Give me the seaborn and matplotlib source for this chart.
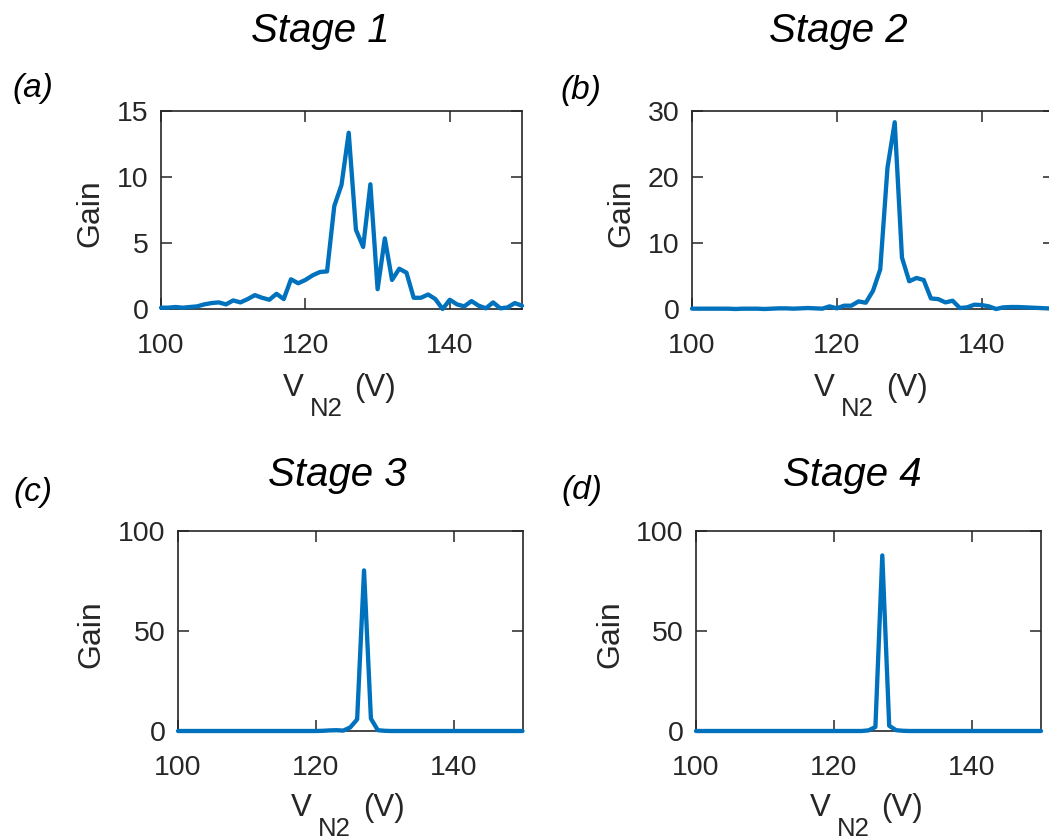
import numpy as np
import matplotlib
matplotlib.use("Agg")
import matplotlib.pyplot as plt
import seaborn as sns

# Nitrogen-stage voltage sweep (V), 1 V steps
voltage = np.arange(100, 151)

gain_stage1 = [0.10, 0.10, 0.15, 0.10, 0.15, 0.20, 0.35, 0.45, 0.50, 0.35,
               0.65, 0.50, 0.75, 1.05, 0.85, 0.70, 1.15, 0.75, 2.25, 1.95,
               2.20, 2.55, 2.80, 2.85, 7.80, 9.40, 13.35, 6.00, 4.70, 9.45,
               1.50, 5.35, 2.20, 3.05, 2.75, 0.85, 0.85, 1.10, 0.75, 0.00,
               0.70, 0.35, 0.20, 0.60, 0.25, 0.05, 0.50, 0.05, 0.12, 0.45,
               0.25]

gain_stage2 = [0.05, 0.05, 0.05, 0.05, 0.05, 0.05, 0.00, 0.05, 0.05, 0.05,
               0.00, 0.05, 0.10, 0.10, 0.05, 0.10, 0.15, 0.10, 0.05, 0.40,
               0.10, 0.50, 0.50, 1.15, 0.95, 2.75, 6.00, 21.4, 28.3, 7.80,
               4.20, 4.70, 4.40, 1.60, 1.50, 1.00, 1.25, 0.15, 0.25, 0.65,
               0.60, 0.40, 0.00, 0.25, 0.30, 0.30, 0.25, 0.20, 0.15, 0.10,
               0.05]

gain_stage3 = [0.0, 0.0, 0.0, 0.0, 0.0, 0.0, 0.0, 0.0, 0.0, 0.0,
               0.0, 0.0, 0.0, 0.0, 0.0, 0.0, 0.0, 0.0, 0.0, 0.0,
               0.0, 0.1, 0.3, 0.4, 0.2, 1.8, 5.8, 80.3, 6.2, 0.4,
               0.1, 0.0, 0.0, 0.0, 0.0, 0.0, 0.0, 0.0, 0.0, 0.0,
               0.0, 0.0, 0.0, 0.0, 0.0, 0.0, 0.0, 0.0, 0.0, 0.0,
               0.0]

gain_stage4 = [0.0, 0.0, 0.0, 0.0, 0.0, 0.0, 0.0, 0.0, 0.0, 0.0,
               0.0, 0.0, 0.0, 0.0, 0.0, 0.0, 0.0, 0.0, 0.0, 0.0,
               0.0, 0.0, 0.0, 0.0, 0.0, 0.3, 2.0, 87.8, 2.6, 0.4,
               0.1, 0.0, 0.0, 0.0, 0.0, 0.0, 0.0, 0.0, 0.0, 0.0,
               0.0, 0.0, 0.0, 0.0, 0.0, 0.0, 0.0, 0.0, 0.0, 0.0,
               0.0]

stage_titles = ["Stage 1", "Stage 2", "Stage 3", "Stage 4"]
panel_tags = ["(a)", "(b)", "(c)", "(d)"]
y_ticks = [[0, 5, 10, 15], [0, 10, 20, 30], [0, 50, 100], [0, 50, 100]]
x_ticks = [100, 120, 140]

sns.set_theme(style="ticks")
plt.rcParams["font.family"] = ["Liberation Sans", "DejaVu Sans"]

W, H = 1049, 840
fig = plt.figure(figsize=(W / 100, H / 100), dpi=100, facecolor="white")

LINE = "#0072BD"
DARK = "#262626"

# axes boxes in pixels: left, right, top, bottom
boxes = [(161, 522, 111, 309), (692, 1054, 111, 309),
         (178, 522.5, 531, 731), (696, 1041, 531, 731)]
series = [gain_stage1, gain_stage2, gain_stage3, gain_stage4]
ylabel_x = [-0.155, -0.153, -0.209, -0.206]
xlabel_drop = [87, 87, 85, 85]
title_pos = [(320, 42), (838, 42), (337, 486), (852, 486)]
tag_pos = [(33, 89), (581, 91), (33, 492), (582, 490)]


def px_text(x, y, s, **kw):
    """Place text at figure pixel coordinates (origin top-left)."""
    return fig.text(x / W, 1 - y / H, s, **kw)


def voltage_label(cx, base):
    """x-axis label V_N2 (V) with a deep, large subscript."""
    px_text(cx - 57, base, "V", fontsize=22.5, color=DARK,
            ha="left", va="baseline")
    px_text(cx - 30, base + 20, "N2", fontsize=18.5, color=DARK,
            ha="left", va="baseline")
    px_text(cx + 15, base, "(V)", fontsize=22.5, color=DARK,
            ha="left", va="baseline")


for i, (l, r, t, b) in enumerate(boxes):
    ax = fig.add_axes([l / W, 1 - b / H, (r - l) / W, (b - t) / H])
    sns.lineplot(x=voltage, y=series[i], ax=ax, color=LINE, linewidth=3.1,
                 zorder=3, clip_on=False)
    ax.set_xlim(100, 150)
    ax.set_ylim(y_ticks[i][0], y_ticks[i][-1])
    ax.set_xticks(x_ticks)
    ax.set_yticks(y_ticks[i])
    ax.tick_params(direction="in", length=8, width=1.1, color=DARK,
                   labelsize=20.5, labelcolor=DARK, top=True, right=True)
    ax.tick_params(axis="x", pad=17)
    ax.tick_params(axis="y", pad=9)
    for sp in ax.spines.values():
        sp.set_color(DARK)
        sp.set_linewidth(1.2)
        sp.set_visible(True)
    ax.set_facecolor("white")
    ax.set_ylabel("Gain", fontsize=23, color=DARK)
    ax.yaxis.set_label_coords(ylabel_x[i], 0.485)

    voltage_label((min(r, 1054) + l) / 2 - 2, b + xlabel_drop[i])

    tx, ty = title_pos[i]
    px_text(tx, ty, stage_titles[i], fontsize=29, fontstyle="italic",
            color="black", ha="center", va="baseline")
    tx, ty = tag_pos[i]
    px_text(tx, ty, panel_tags[i], fontsize=24, fontstyle="italic",
            color="black", ha="center", va="center")

fig.savefig("out.png", dpi=100, facecolor="white")
